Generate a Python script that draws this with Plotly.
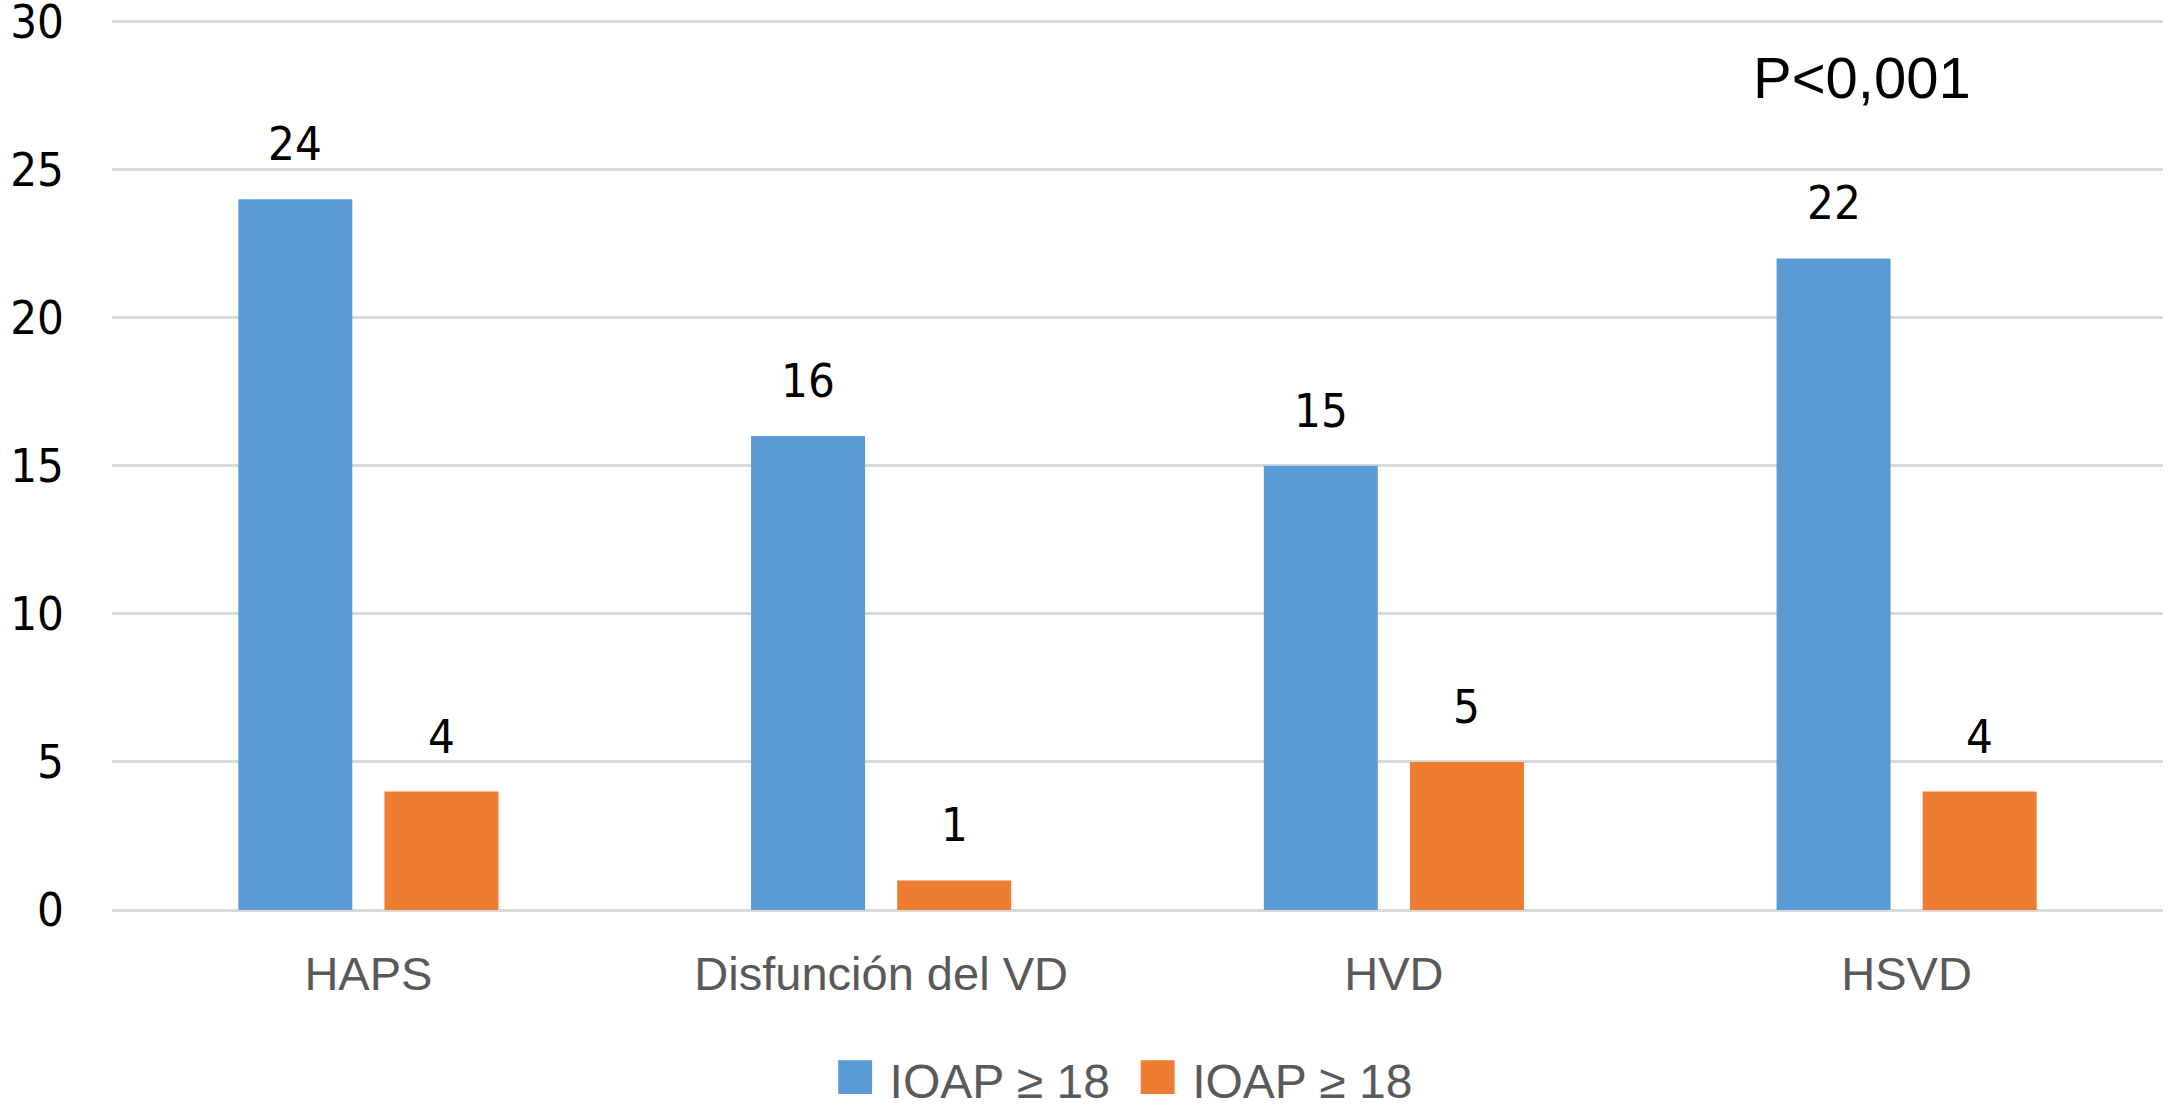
import plotly.graph_objects as go

# datos del grafico
categorias = ["HAPS", "Disfunción del VD", "HVD", "HSVD"]
serie_nombres = ["IOAP ≥ 18", "IOAP ≥ 18"]
serie_alta = [24, 16, 15, 22]
serie_baja = [4, 1, 5, 4]
colores = ["#5B9BD5", "#ED7D31"]
p_valor = "P<0,001"

bargap = 0.43
bargroupgap = 0.22
num_font = "DejaVu Sans Condensed, DejaVu Sans, sans-serif"
txt_font = "Liberation Sans, Arial, sans-serif"

fig = go.Figure()
for nombre, valores, color in zip(serie_nombres, [serie_alta, serie_baja], colores):
    fig.add_trace(go.Bar(x=categorias, y=valores, name=nombre,
                         marker=dict(color=color, line=dict(width=0))))

# etiquetas de valor encima de cada barra
anotaciones = []
desplaz = (1 - bargap) / 4
for k, valores in enumerate([serie_alta, serie_baja]):
    off = -desplaz if k == 0 else desplaz
    for i, v in enumerate(valores):
        anotaciones.append(dict(x=i + off, y=v, xref="x", yref="y", text=str(v),
                                showarrow=False, yanchor="bottom", yshift=26,
                                font=dict(family=num_font, size=47, color="#000000")))

anotaciones.append(dict(x=0.853, y=28.1, xref="paper", yref="y", text=p_valor,
                        showarrow=False, xanchor="center", yanchor="middle",
                        font=dict(family=txt_font, size=58, color="#000000")))

# leyenda hecha a mano (cuadros grandes como en el original)
leyenda = "&nbsp;&nbsp;".join(
    '<span style="color:%s;font-size:70px">■</span> %s' % (c, n)
    for c, n in zip(colores, serie_nombres))
anotaciones.append(dict(x=0.493, y=-0.184, xref="paper", yref="paper", text=leyenda,
                        showarrow=False, xanchor="center", yanchor="middle",
                        font=dict(family=txt_font, size=48, color="#595959")))

fig.update_layout(
    width=2167, height=1105,
    barmode="group", bargap=bargap, bargroupgap=bargroupgap,
    plot_bgcolor="white", paper_bgcolor="white",
    margin=dict(l=112, r=4, t=17, b=195),
    showlegend=False,
    annotations=anotaciones,
)
fig.update_yaxes(range=[0, 30.15], dtick=5, showgrid=True, gridcolor="#D9D9D9", gridwidth=3,
                 zeroline=True, zerolinecolor="#D9D9D9", zerolinewidth=3,
                 showline=False, ticks="", ticklabelstandoff=47, automargin=False,
                 ticklabeloverflow="allow",
                 tickfont=dict(family=num_font, size=47, color="#000000"))
fig.update_xaxes(showline=False, ticks="", ticklabelstandoff=32, automargin=False,
                 tickfont=dict(family=txt_font, size=47, color="#595959"))

# sin margen del body para que la figura ocupe la ventana entera
fig.write_html("out.html", config={"displayModeBar": False},
               post_script="document.body.style.margin='0';")
